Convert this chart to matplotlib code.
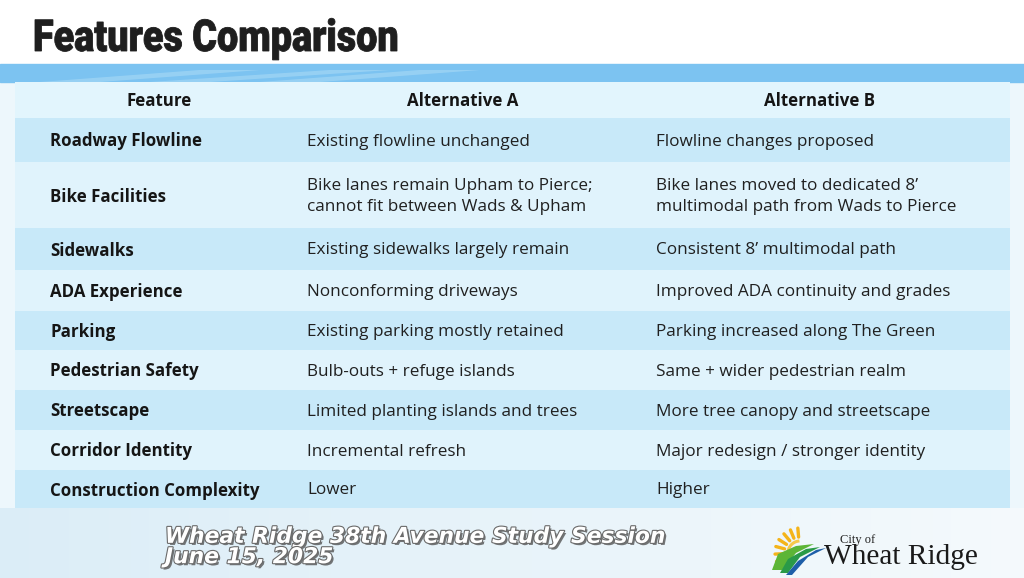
import numpy as np
import matplotlib.pyplot as plt
import matplotlib.patheffects as pe
from matplotlib.patches import Rectangle, Polygon, PathPatch
from matplotlib.textpath import TextPath
from matplotlib.font_manager import FontProperties
from matplotlib.transforms import Affine2D
from matplotlib import font_manager

headers = ["Feature", "Alternative A", "Alternative B"]
features = ["Roadway Flowline", "Bike Facilities", "Sidewalks", "ADA Experience",
            "Parking", "Pedestrian Safety", "Streetscape", "Corridor Identity",
            "Construction Complexity"]
alt_a = ["Existing flowline unchanged",
         "Bike lanes remain Upham to Pierce;\ncannot fit between Wads & Upham",
         "Existing sidewalks largely remain",
         "Nonconforming driveways",
         "Existing parking mostly retained",
         "Bulb-outs + refuge islands",
         "Limited planting islands and trees",
         "Incremental refresh",
         "Lower"]
alt_b = ["Flowline changes proposed",
         "Bike lanes moved to dedicated 8\u2019\nmultimodal path from Wads to Pierce",
         "Consistent 8\u2019 multimodal path",
         "Improved ADA continuity and grades",
         "Parking increased along The Green",
         "Same + wider pedestrian realm",
         "More tree canopy and streetscape",
         "Major redesign / stronger identity",
         "Higher"]
title = "Features Comparison"
footer = "Wheat Ridge 38th Avenue Study Session\nJune 15, 2025"

# layout (pixels)
W, H = 1024, 578
row_h = [36, 44, 66, 42, 41, 39, 40, 40, 40, 38]
tbl_x0, tbl_x1, tbl_y0 = 15, 1010, 82
col_text_x = [50, 307, 656]
col_head_x = [159, 463, 820]


def pick(names):
    avail = {f.name for f in font_manager.fontManager.ttflist}
    for n in names:
        if n in avail:
            return n
    return "DejaVu Sans"


body_font = pick(["Open Sans", "Noto Sans", "DejaVu Sans"])
title_font = pick(["Roboto", "DejaVu Sans"])
serif = pick(["Liberation Serif", "DejaVu Serif"])

fig = plt.figure(figsize=(W / 100, H / 100), dpi=100)
ax = fig.add_axes([0, 0, 1, 1])
ax.set_xlim(0, W)
ax.set_ylim(H, 0)
ax.axis("off")

# background: white top, pale blue sides, gradient footer
bg = np.ones((H, W, 3))
xs = np.linspace(0, 1, W)
bg[82:] = np.array([0.93, 0.97, 0.99])
foot = np.stack([0.86 + 0.1 * xs, 0.93 + 0.05 * xs, 0.97 + 0.02 * xs], axis=1)
bg[508:] = foot
ax.imshow(bg, extent=(0, W, H, 0), aspect="auto", zorder=0)

# blue banner with light streaks
ax.add_patch(Rectangle((0, 64), W, 18, color="#7cc3f1", zorder=1))
for x0, x1 in [(40, 200), (150, 330), (260, 420)]:
    ax.add_patch(Polygon([(x0, 82), (x1, 70), (x1 + 60, 70), (x0 + 60, 82)],
                         color="#a9daf6", alpha=0.6, lw=0, zorder=1))

# table rows
y = tbl_y0
row_colors = ["#e2f5fd"] + ["#c8e9f9" if i % 2 == 0 else "#e0f3fc" for i in range(len(features))]
for i, h in enumerate(row_h):
    ax.add_patch(Rectangle((tbl_x0, y), tbl_x1 - tbl_x0, h, color=row_colors[i], lw=0, zorder=2))
    cy = y + h / 2
    if i == 0:
        for x, t in zip(col_head_x, headers):
            ax.text(x, cy + 1.5, t, ha="center", va="center", fontsize=12.2,
                    fontweight="bold", family=body_font, color="#151515", zorder=3)
    else:
        k = i - 1
        ax.text(col_text_x[0], cy + 1.5, features[k], ha="left", va="center", fontsize=12.2,
                fontweight="bold", family=body_font, color="#151515", zorder=3)
        ax.text(col_text_x[1], cy + 1.5, alt_a[k], ha="left", va="center", fontsize=12.3,
                family=body_font, color="#202020", linespacing=1.45, zorder=3)
        ax.text(col_text_x[2], cy + 1.5, alt_b[k], ha="left", va="center", fontsize=12.3,
                family=body_font, color="#202020", linespacing=1.45, zorder=3)
    y += h

# title: heavy, condensed via a scaled text path
tp = TextPath((0, 0), title, size=44, prop=FontProperties(family=title_font, weight="black"))
ext = tp.get_extents()
sx = 362 / ext.width
tr = Affine2D().translate(-ext.x0, 0).scale(sx, -1).translate(35, 51)
ax.add_patch(PathPatch(tr.transform_path(tp), color="#1e1e1e", lw=0.6, zorder=3))

# footer text
ax.text(165, 547, footer, ha="left", va="center", fontsize=15.7, fontweight="bold",
        style="italic", family="DejaVu Sans", color="white", linespacing=1.02, zorder=3,
        path_effects=[pe.withSimplePatchShadow(offset=(1.5, -1.5), shadow_rgbFace="#555555", alpha=0.8),
                      pe.withStroke(linewidth=1.6, foreground="#6a6a6a")])

# logo: sun rays, leaves, swoosh
cx, cy = 800, 553
for a in np.linspace(95, 200, 7):
    r = np.radians(a)
    ax.plot([cx + 16 * np.cos(r), cx + 25 * np.cos(r)],
            [cy - 16 * np.sin(r), cy - 25 * np.sin(r)],
            color="#f4b41a", lw=2.4, solid_capstyle="round", zorder=3)
t = np.radians(np.linspace(100, 200, 30))
ax.plot(cx + 12 * np.cos(t), cy - 12 * np.sin(t), color="#f6c84a", lw=2.2, zorder=3)
ax.add_patch(Polygon([(772, 570), (778, 554), (796, 546), (814, 544), (796, 553), (782, 570)],
                     color="#5cb536", lw=0, zorder=4))
ax.add_patch(Polygon([(780, 573), (788, 559), (806, 549), (820, 547), (800, 557), (788, 573)],
                     color="#2a9a48", lw=0, zorder=4))
ax.add_patch(Polygon([(786, 575), (798, 561), (816, 550), (826, 548), (808, 557), (792, 575)],
                     color="#1d5ea8", lw=0, zorder=4))
ax.text(840, 540, "City of", fontsize=9, family=serif, color="#222222",
        ha="left", va="center", zorder=4)
ax.text(824, 557, "Wheat Ridge", fontsize=21.2, family=serif, color="#1a1a1a",
        ha="left", va="center", zorder=4)

fig.savefig("out.png", dpi=100)
